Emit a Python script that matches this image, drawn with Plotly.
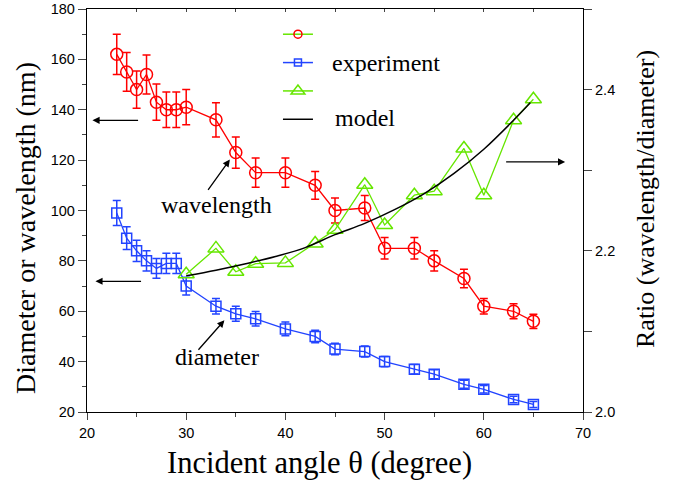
import plotly.graph_objects as go

# ---- data ----
angle_exp = [23, 24, 25, 26, 27, 28, 29, 30, 33, 35, 37, 40, 43, 45, 48, 50, 53, 55, 58, 60, 63, 65]
wavelength = [162, 155, 148, 154, 143, 140, 140, 141, 136, 123, 115, 115, 110, 100, 101, 85, 85, 80, 73, 62, 60, 56]
wavelength_err = [8.0, 7.7, 7.4, 7.7, 7.2, 7.0, 7.0, 7.0, 6.8, 6.2, 5.8, 5.8, 5.5, 5.0, 5.0, 4.3, 4.3, 4.0, 3.7, 3.1, 3.0, 2.8]
diameter = [99, 89, 84, 80, 77, 79, 79, 70, 62, 59, 57, 53, 50, 45, 44, 40, 37, 35, 31, 29, 25, 23]
diameter_err = [5.0, 4.5, 4.2, 4.0, 3.9, 4.0, 4.0, 3.5, 3.1, 3.0, 2.9, 2.7, 2.5, 2.3, 2.2, 2.0, 1.9, 1.8, 1.6, 1.5, 1.3, 1.2]

angle_ratio = [30, 33, 35, 37, 40, 43, 45, 48, 50, 53, 55, 58, 60, 63, 65]
ratio_exp = [2.171, 2.203, 2.174, 2.184, 2.185, 2.209, 2.226, 2.282, 2.232, 2.269, 2.274, 2.327, 2.269, 2.362, 2.388]

angle_model = [30, 33, 36, 39, 42, 45, 48, 51, 54, 57, 60, 63, 64.7]
ratio_model = [2.169, 2.176, 2.184, 2.193, 2.204, 2.220, 2.234, 2.251, 2.271, 2.296, 2.326, 2.362, 2.384]

RED = "#ff0000"
BLUE = "#2244ff"
GREEN = "#66e600"
SERIF = "Liberation Serif, Times New Roman, serif"
SANS = "Liberation Sans, Arial, sans-serif"

fig = go.Figure()

fig.add_trace(go.Scatter(
    x=angle_exp, y=diameter, mode="lines+markers", showlegend=False,
    line=dict(color=BLUE, width=1.3),
    marker=dict(symbol="square-open", size=10, color=BLUE, line=dict(width=1.5)),
    error_y=dict(type="data", array=diameter_err, color=BLUE, thickness=1.5, width=4),
))
fig.add_trace(go.Scatter(
    x=angle_exp, y=wavelength, mode="lines+markers", showlegend=False,
    line=dict(color=RED, width=1.3),
    marker=dict(symbol="circle-open", size=12, color=RED, line=dict(width=1.5)),
    error_y=dict(type="data", array=wavelength_err, color=RED, thickness=1.5, width=4),
))
fig.add_trace(go.Scatter(
    x=angle_ratio, y=ratio_exp, mode="lines+markers", showlegend=False, yaxis="y2",
    line=dict(color=GREEN, width=1.3),
    marker=dict(symbol="triangle-up-open", size=14, color=GREEN, line=dict(width=1.5)),
))
fig.add_trace(go.Scatter(
    x=angle_model, y=ratio_model, mode="lines", showlegend=False, yaxis="y2",
    line=dict(color="black", width=1.5, shape="spline"),
))

# top axis helper (inward ticks on the frame)
fig.add_trace(go.Scatter(x=[None], y=[None], xaxis="x2", showlegend=False, hoverinfo="skip"))

# legend symbols (texts added as annotations below)
fig.add_trace(go.Scatter(x=[None], y=[None], mode="lines+markers", name=" ",
                         line=dict(color=GREEN, width=1.5),
                         marker=dict(symbol="circle-open", size=8, color=RED, line=dict(width=1.5))))
fig.add_trace(go.Scatter(x=[None], y=[None], mode="lines+markers", name=" ",
                         line=dict(color=BLUE, width=1.5),
                         marker=dict(symbol="square-open", size=7, color=BLUE, line=dict(width=1.5))))
fig.add_trace(go.Scatter(x=[None], y=[None], mode="lines+markers", name=" ",
                         line=dict(color=GREEN, width=1.5),
                         marker=dict(symbol="triangle-up-open", size=12, color=GREEN, line=dict(width=1.5))))
fig.add_trace(go.Scatter(x=[None], y=[None], mode="lines", name=" ",
                         line=dict(color="black", width=1.5)))

tickfont = dict(family=SANS, size=14.5, color="black")

fig.update_layout(
    width=679, height=482,
    margin=dict(l=87, r=96, t=9, b=70),
    paper_bgcolor="white", plot_bgcolor="white",
    xaxis=dict(range=[20, 70], dtick=10, ticks="outside", ticklen=7, tickwidth=1.2,
               minor=dict(dtick=5, ticks="outside", ticklen=4, tickwidth=1.2),
               showline=True, linecolor="black", linewidth=1.3, showgrid=False, zeroline=False,
               tickfont=tickfont, automargin=False),
    xaxis2=dict(range=[20, 70], overlaying="x", side="top", anchor="y", dtick=5,
                ticks="inside", ticklen=3, tickwidth=1.2, showticklabels=False, automargin=False,
                showline=True, linecolor="black", linewidth=1.3, showgrid=False, zeroline=False),
    yaxis=dict(range=[20, 180], dtick=20, ticks="outside", ticklen=8, tickwidth=1.2,
               minor=dict(dtick=10, ticks="outside", ticklen=4, tickwidth=1.2),
               showline=True, linecolor="black", linewidth=1.3, showgrid=False, zeroline=False,
               tickfont=tickfont, automargin=False),
    yaxis2=dict(range=[2.0, 2.5], dtick=0.2, tickformat=".1f", overlaying="y", side="right", anchor="x",
                ticks="outside", ticklen=8, tickwidth=1.2, automargin=False,
                minor=dict(dtick=0.1, ticks="outside", ticklen=8, tickwidth=1.2),
                showline=True, linecolor="black", linewidth=1.3, showgrid=False, zeroline=False,
                tickfont=tickfont),
    legend=dict(x=0.385, y=0.985, xanchor="left", yanchor="top", bgcolor="rgba(0,0,0,0)",
                font=dict(family=SERIF, size=19.5, color="black"), tracegroupgap=0, itemwidth=30),
    showlegend=True,
)

# axis titles (placed as in the reference, off-centre)
fig.add_annotation(xref="paper", yref="paper", x=0.4694, y=-0.126, xanchor="center", yanchor="middle",
                   text="Incident angle θ (degree)", showarrow=False,
                   font=dict(family=SERIF, size=30.5, color="black"))
fig.add_annotation(xref="paper", yref="paper", x=-0.1244, y=0.4573, xanchor="center", yanchor="middle",
                   text="Diameter or wavelength (nm)", showarrow=False, textangle=-90,
                   font=dict(family=SERIF, size=28, color="black"))
fig.add_annotation(xref="paper", yref="paper", x=1.1256, y=0.5293, xanchor="center", yanchor="middle",
                   text="Ratio (wavelength/diameter)", showarrow=False, textangle=-90,
                   font=dict(family=SERIF, size=26, color="black"))

arrow = dict(showarrow=True, arrowhead=2, arrowsize=1.1, arrowwidth=1.3, arrowcolor="black",
             axref="x", ayref="y", text="")
# left-pointing arrows, right-pointing arrow, label pointers
fig.add_annotation(x=20.55, y=135.8, ax=25.3, ay=135.8, **arrow)
fig.add_annotation(x=20.85, y=71.9, ax=25.6, ay=71.9, **arrow)
fig.add_annotation(x=68.2, y=119.3, ax=62.1, ay=119.3, **arrow)
fig.add_annotation(x=34.4, y=120.2, ax=32.1, ay=107.6, **arrow)
fig.add_annotation(x=33.85, y=56.4, ax=31.1, ay=44.1, **arrow)

label_font = dict(family=SERIF, size=24, color="black")
fig.add_annotation(x=33.06, y=102.3, text="wavelength", showarrow=False, font=label_font)
fig.add_annotation(x=33.06, y=42, text="diameter", showarrow=False, font=label_font)

# legend texts
fig.add_annotation(xref="paper", yref="paper", x=0.4905, y=0.867, xanchor="left", yanchor="middle",
                   text="experiment", showarrow=False, font=label_font)
fig.add_annotation(xref="paper", yref="paper", x=0.4966, y=0.730, xanchor="left", yanchor="middle",
                   text="model", showarrow=False, font=label_font)

fig.write_html("out.html", config={"displayModeBar": False},
               post_script="document.body.style.margin='0px';")
